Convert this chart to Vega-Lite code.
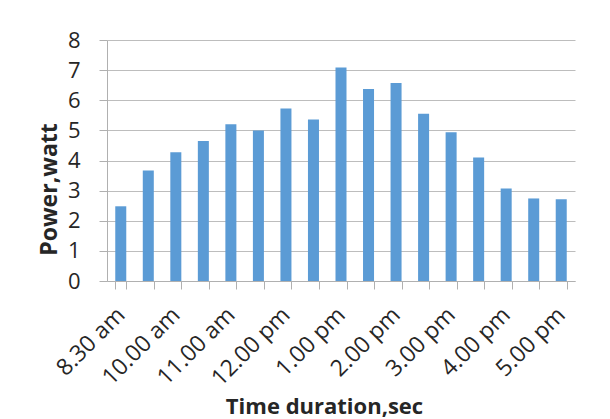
{
  "$schema": "https://vega.github.io/schema/vega-lite/v6.json",
  "width": 468,
  "height": 241,
  "autosize": "none",
  "padding": {"left": 107, "top": 40, "right": 35, "bottom": 138},
  "background": "white",
  "config": {
    "view": {"stroke": null},
    "font": "Open Sans"
  },
  "data": {
    "values": [
      {"time": "8.30 am", "power": 2.48},
      {"time": "9.30 am", "power": 3.67},
      {"time": "10.00 am", "power": 4.27},
      {"time": "10.30 am", "power": 4.65},
      {"time": "11.00 am", "power": 5.2},
      {"time": "11.30 am", "power": 5.0},
      {"time": "12.00 pm", "power": 5.73},
      {"time": "12.30 pm", "power": 5.36},
      {"time": "1.00 pm", "power": 7.09},
      {"time": "1.30 pm", "power": 6.37},
      {"time": "2.00 pm", "power": 6.57},
      {"time": "2.30 pm", "power": 5.55},
      {"time": "3.00 pm", "power": 4.94},
      {"time": "3.30 pm", "power": 4.1},
      {"time": "4.00 pm", "power": 3.07},
      {"time": "4.30 pm", "power": 2.74},
      {"time": "5.00 pm", "power": 2.71}
    ]
  },
  "mark": {"type": "bar", "color": "#5B9BD5"},
  "encoding": {
    "x": {
      "field": "time",
      "type": "nominal",
      "sort": null,
      "scale": {"paddingInner": 0.6, "paddingOuter": 0.3},
      "axis": {
        "title": "Time duration,sec",
        "titleFont": "Open Sans",
        "titleFontWeight": "bold",
        "titleFontSize": 22,
        "titleColor": "#262626",
        "titleX": 217,
        "titleY": 132,
        "titleAlign": "center",
        "titleBaseline": "alphabetic",
        "labelAngle": -45,
        "labelAlign": "right",
        "labelBaseline": "middle",
        "labelFontSize": 23,
        "labelColor": "#262626",
        "labelPadding": 22,
        "labelExpr": "indexof(['8.30 am','10.00 am','11.00 am','12.00 pm','1.00 pm','2.00 pm','3.00 pm','4.00 pm','5.00 pm'], datum.value) >= 0 ? datum.label : ''",
        "tickBand": "extent",
        "tickSize": 8,
        "tickColor": "#b0b0b0",
        "domainColor": "#b0b0b0",
        "labelOverlap": false
      }
    },
    "y": {
      "field": "power",
      "type": "quantitative",
      "scale": {"domain": [0, 8], "nice": false},
      "axis": {
        "title": "Power,watt",
        "titleFont": "Open Sans",
        "titleFontWeight": "bold",
        "titleFontSize": 23,
        "titleColor": "#262626",
        "titleAngle": -90,
        "titleX": -51,
        "titleY": 149,
        "titleAlign": "center",
        "titleBaseline": "alphabetic",
        "values": [0, 1, 2, 3, 4, 5, 6, 7, 8],
        "labelFontSize": 22,
        "labelColor": "#262626",
        "labelPadding": 19,
        "tickSize": 8,
        "tickColor": "#b0b0b0",
        "domainColor": "#b0b0b0",
        "gridColor": "#bdbdbd",
        "gridWidth": 1.2
      }
    }
  }
}
